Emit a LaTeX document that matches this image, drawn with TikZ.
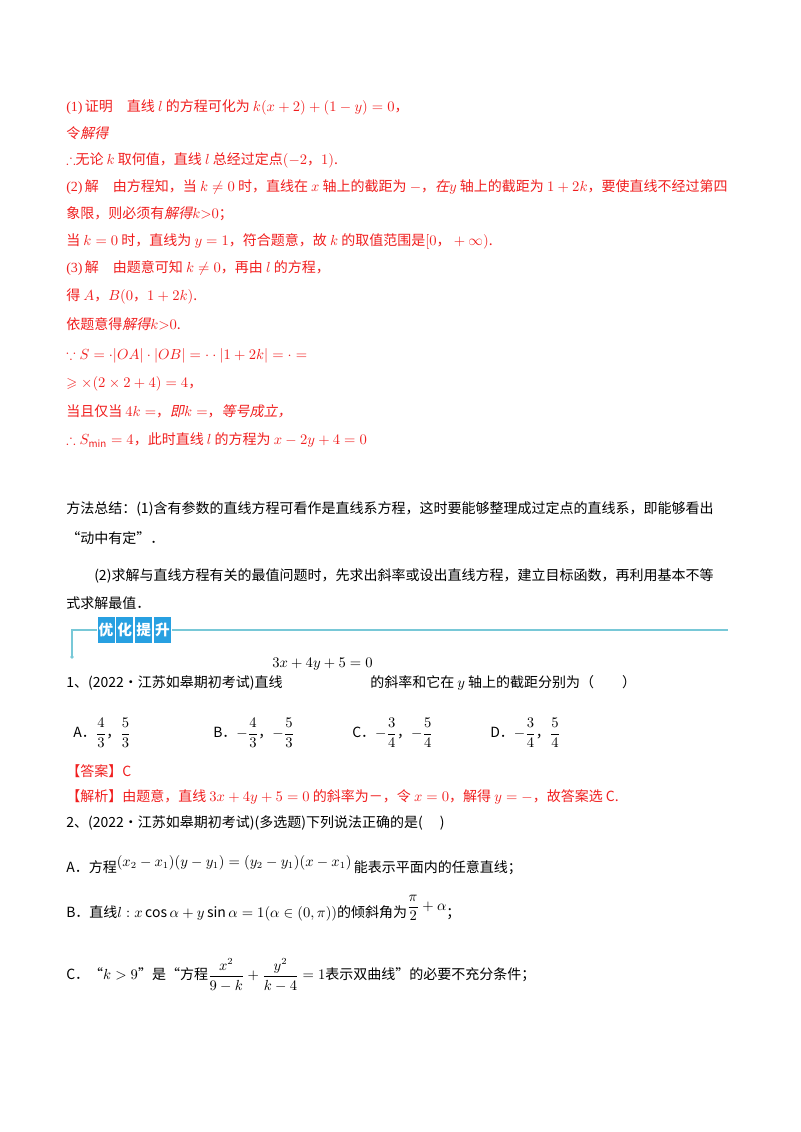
\documentclass[tikz,border=0pt]{standalone}
\usepackage{amsmath,amssymb}
\usepackage{fontspec}
\setmainfont{Noto Sans CJK SC}
\newfontfamily\cjkit{Noto Sans CJK SC}[FakeSlant=0.2]
\newfontfamily\tms{Liberation Serif}
\definecolor{rd}{RGB}{240,30,30}
\definecolor{bl}{RGB}{40,160,225}
\definecolor{ln}{RGB}{120,200,215}
\begin{document}
\begin{tikzpicture}[x=0.75pt,y=-0.75pt,
  t/.style={anchor=west,inner sep=0pt,font=\fontsize{10.5}{12}\selectfont},
  r/.style={t,text=rd},
  k/.style={t,text=black},
  bx/.style={fill=bl,draw=white,line width=0.6pt,minimum width=13.5pt,minimum height=20pt,inner sep=0pt,text=white,font=\fontsize{11}{12}\selectfont\bfseries}]
\useasboundingbox (0,0) rectangle (800,1132);
\node[r] (l1) at (66,107) {{\tms(1)}\,证明\quad 直线 $l$ 的方程可化为 $k(x+2)+(1-y)=0$，};
\node[r] (l2) at (66,133) {令{\cjkit 解得}};
\node[r] (l3) at (66,160) {$\therefore$无论 $k$ 取何值，直线 $l$ 总经过定点$(-2，1)$.};
\node[r] (l4) at (66,187) {{\tms(2)}\,解\quad 由方程知，当 $k\neq0$ 时，直线在 $x$ 轴上的截距为 $-$，{\cjkit 在}$y$ 轴上的截距为 $1+2k$，要使直线不经过第四};
\node[r] (l5) at (66,214) {象限，则必须有{\cjkit 解得}$k{>}0$；};
\node[r] (l6) at (66,241) {当 $k=0$ 时，直线为 $y=1$，符合题意，故 $k$ 的取值范围是$[0，+\infty)$.};
\node[r] (l7) at (66,268) {{\tms(3)}\,解\quad 由题意可知 $k\neq0$，再由 $l$ 的方程，};
\node[r] (l8) at (66,296) {得 $A$，$B(0，1+2k)$.};
\node[r] (l9) at (66,324) {依题意得{\cjkit 解得}$k{>}0$.};
\node[r] (l10) at (66,356) {$\because S=\cdot|OA|\cdot|OB|=\cdot\cdot|1+2k|=\cdot=$};
\node[r] (l11) at (66,384) {$\geqslant\times(2\times2+4)=4$，};
\node[r] (l12) at (66,411) {当且仅当 $4k=$，{\cjkit 即}$k=$，{\cjkit 等号成立，}};
\node[r] (l13) at (66,440) {$\therefore S_{\min}=4$，此时直线 $l$ 的方程为 $x-2y+4=0$};
\node[k] (m1) at (66,509) {方法总结：(1)含有参数的直线方程可看作是直线系方程，这时要能够整理成过定点的直线系，即能够看出};
\node[k] (m2) at (66,538) {“动中有定”．};
\node[k] (m3) at (94,576) {(2)求解与直线方程有关的最值问题时，先求出斜率或设出直线方程，建立目标函数，再利用基本不等};
\node[k] (m4) at (66,603) {式求解最值．};
% banner
\coordinate (c0) at (72,657);
\coordinate (c1) at (72,630);
\coordinate (c2) at (728,630);
\draw[ln,line width=1pt] (c0) -- (c1) -- (c2);
\fill[ln] (c0) circle (1.8);
\node[bx] (b1) at (106,630) {优};
\node[bx,anchor=west] (b2) at (b1.east) {化};
\node[bx,anchor=west] (b3) at (b2.east) {提};
\node[bx,anchor=west] (b4) at (b3.east) {升};
% question 1
\node[k] (q1) at (66,683) {1、(2022·江苏如皋期初考试)直线};
\node[k] (q1e) at (272,664) {$3x+4y+5=0$};
\node[k] (q1b) at (370,683) {的斜率和它在 $y$ 轴上的截距分别为（\qquad）};
\node[k] (oa) at (73,733) {A．$\dfrac{4}{3}$，$\dfrac{5}{3}$};
\node[k] (ob) at (213,733) {B．$-\dfrac{4}{3}$，$-\dfrac{5}{3}$};
\node[k] (oc) at (352,733) {C．$-\dfrac{3}{4}$，$-\dfrac{5}{4}$};
\node[k] (od) at (490,733) {D．$-\dfrac{3}{4}$，$\dfrac{5}{4}$};
\node[r] (ans) at (66,771) {【答案】C};
\node[r] (jx) at (66,797) {【解析】由题意，直线 $3x+4y+5=0$ 的斜率为－，令 $x=0$，解得 $y=-$，故答案选 C.};
% question 2
\node[k] (q2) at (66,823) {2、(2022·江苏如皋期初考试)(多选题)下列说法正确的是(\quad~)};
\node[k] (qa) at (66,865) {A．方程\raisebox{5pt}{$(x_2-x_1)(y-y_1)=(y_2-y_1)(x-x_1)$}\,能表示平面内的任意直线；};
\node[k] (qb) at (66,908) {B．直线$l:x\cos\alpha+y\sin\alpha=1(\alpha\in(0,\pi))$的倾斜角为\raisebox{5pt}{$\dfrac{\pi}{2}+\alpha$}；};
\node[k] (qc) at (66,975) {C．“$k>9$”是“方程$\dfrac{x^2}{9-k}+\dfrac{y^2}{k-4}=1$表示双曲线”的必要不充分条件；};
\end{tikzpicture}
\end{document}
